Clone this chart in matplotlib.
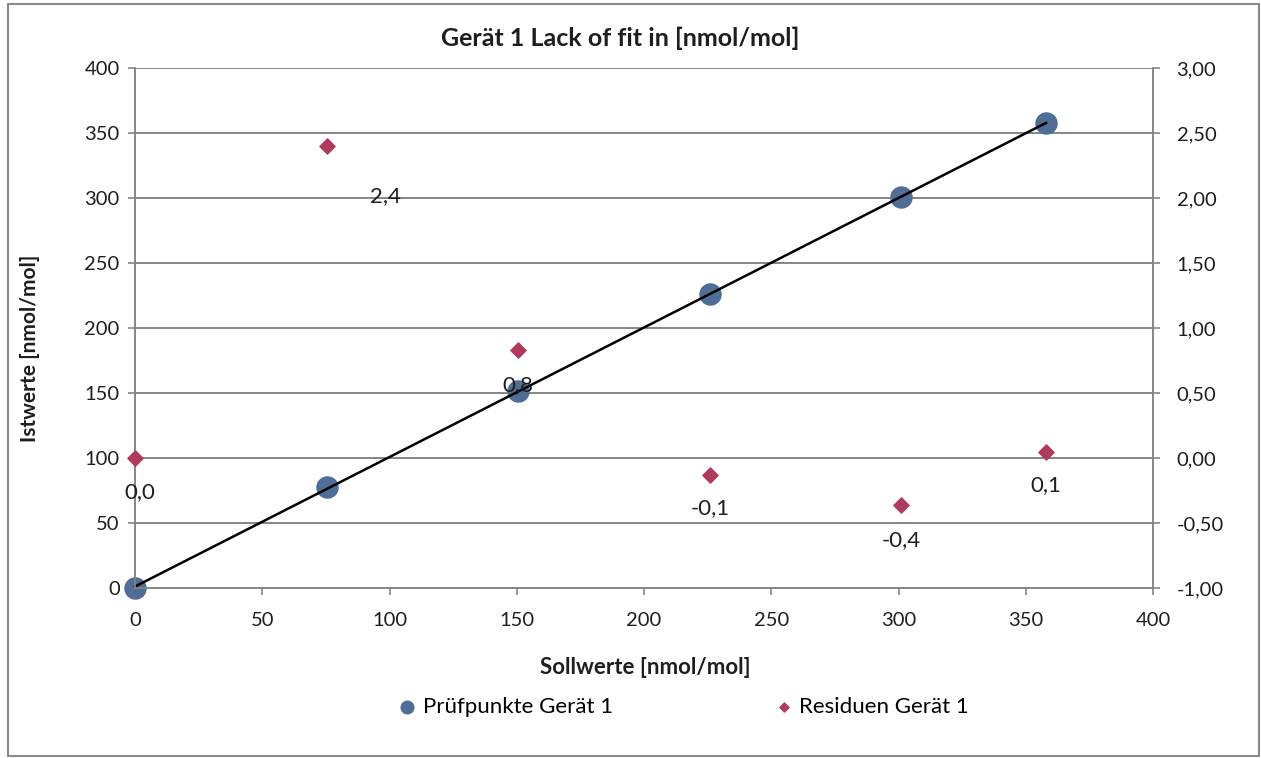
import numpy as np
import matplotlib
matplotlib.use("Agg")
import matplotlib.pyplot as plt
from matplotlib.patches import Rectangle
from matplotlib.ticker import FuncFormatter

plt.rcParams["font.family"] = ["Lato", "DejaVu Sans"]

sollwerte = [0, 75.5, 150.5, 226, 301, 358]
istwerte = [0, 77.9, 151.3, 225.8, 300.6, 358]
residuen = [0.0, 2.4, 0.83, -0.13, -0.36, 0.05]

# label offsets in pixels (Excel data label placement)
label_offsets = [(5, -34), (58, -50), (0, -35), (0, -33), (0, -35), (0, -34)]

fig = plt.figure(figsize=(12.61, 7.58), dpi=100)
ax = fig.add_axes([135 / 1261, 1 - 588 / 758, 1018 / 1261, 520 / 758])
ax2 = ax.twinx()

grid_c = "#868686"
text_c = "#1e1e1e"

ax.set_xlim(0, 400)
ax.set_ylim(0, 400)
ax.set_xticks(np.arange(0, 401, 50))
ax.set_yticks(np.arange(0, 401, 50))
ax.grid(True, axis="y", color=grid_c, linewidth=1.4)
ax.set_axisbelow(True)

ax2.set_ylim(-1, 3)
ax2.set_yticks(np.arange(-1, 3.01, 0.5))
ax2.yaxis.set_major_formatter(FuncFormatter(lambda v, p: f"{v:.2f}".replace(".", ",")))

for a in (ax, ax2):
    for s in a.spines.values():
        s.set_color(grid_c)
        s.set_linewidth(1.2)
    a.spines["top"].set_visible(False)
    a.tick_params(colors=grid_c, labelcolor=text_c, labelsize=14.5, length=5, width=1.2)

ax.tick_params(axis="x", pad=12)
ax.tick_params(axis="y", pad=6)
ax2.tick_params(axis="y", pad=12)

# points and fit line
ax.scatter(sollwerte, istwerte, s=230, color="#4f6d95", zorder=3, clip_on=False,
           label="Prüfpunkte Gerät 1")
k, d = np.polyfit(sollwerte, istwerte, 1)
xl = np.array([0, max(sollwerte)])
ax.plot(xl, k * xl + d, color="black", linewidth=1.8, zorder=4, clip_on=False)

ax2.scatter(sollwerte, residuen, s=60, marker="D", color="#b03a5c", zorder=5, clip_on=False,
            label="Residuen Gerät 1")
for x, r, off in zip(sollwerte, residuen, label_offsets):
    ax2.annotate(f"{r:.1f}".replace(".", ","), (x, r), xytext=off, textcoords="offset pixels",
                 ha="center", va="center", fontsize=16, color=text_c)

fig.text(620 / 1261, 1 - 38 / 758, "Gerät 1 Lack of fit in [nmol/mol]", fontsize=18,
         fontweight="bold", ha="center", va="center", color=text_c)
ax.set_xlabel("Sollwerte [nmol/mol]", fontsize=16, fontweight="bold", color=text_c)
ax.set_ylabel("Istwerte [nmol/mol]", fontsize=15, fontweight="bold", color=text_c)
ax.xaxis.set_label_coords(0.501, -0.133)
ax.yaxis.set_label_coords(-0.093, 0.46)

h1, l1 = ax.get_legend_handles_labels()
h2, l2 = ax2.get_legend_handles_labels()
leg = fig.legend(h1 + h2, l1 + l2, loc="center", bbox_to_anchor=(677 / 1261, 1 - 707 / 758),
                 ncol=2, frameon=False, fontsize=16, columnspacing=6.7, handletextpad=-0.3,
                 markerscale=0.6)

fig.patches.append(Rectangle((8 / 1261, 2 / 758), 1251 / 1261, 752 / 758, transform=fig.transFigure,
                             fill=False, edgecolor="#8a8a8a", linewidth=1.5))

fig.savefig("out.png", dpi=100)
